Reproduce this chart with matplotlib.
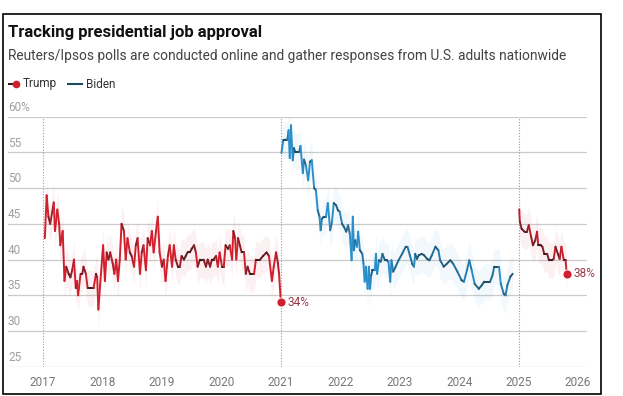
import numpy as np
import matplotlib.pyplot as plt
from matplotlib.collections import LineCollection
from matplotlib.patches import Rectangle
from matplotlib.colors import to_rgb

plt.rcParams['font.family'] = ['Roboto', 'DejaVu Sans']

# Reuters/Ipsos approval (decimal year, % approve)
trump1_year = [2017.03, 2017.06, 2017.09, 2017.12, 2017.15, 2017.18, 2017.20, 2017.24, 2017.27, 2017.29,
               2017.33, 2017.36, 2017.39, 2017.43, 2017.46, 2017.49, 2017.52, 2017.55, 2017.57, 2017.59,
               2017.63, 2017.66, 2017.68, 2017.72, 2017.75, 2017.81, 2017.85, 2017.89, 2017.91, 2017.93,
               2017.96, 2018.01, 2018.04, 2018.07, 2018.10, 2018.13, 2018.17, 2018.20, 2018.23, 2018.26,
               2018.29, 2018.32, 2018.36, 2018.39, 2018.42, 2018.46, 2018.49, 2018.53, 2018.56, 2018.59,
               2018.63, 2018.66, 2018.69, 2018.73, 2018.76, 2018.80, 2018.83, 2018.86, 2018.90, 2018.93,
               2018.96, 2019.00, 2019.03, 2019.06, 2019.10, 2019.13, 2019.17, 2019.20, 2019.23, 2019.27,
               2019.30, 2019.33, 2019.37, 2019.40, 2019.43, 2019.47, 2019.50, 2019.54, 2019.57, 2019.60,
               2019.64, 2019.67, 2019.70, 2019.74, 2019.77, 2019.81, 2019.84, 2019.87, 2019.91, 2019.94,
               2019.97, 2020.01, 2020.04, 2020.07, 2020.11, 2020.14, 2020.18, 2020.20, 2020.23, 2020.25,
               2020.28, 2020.31, 2020.34, 2020.38, 2020.41, 2020.44, 2020.48, 2020.51, 2020.55, 2020.58,
               2020.65, 2020.70, 2020.76, 2020.80, 2020.85, 2020.88, 2020.92, 2020.95, 2020.97, 2021.00]
trump1_pct = [43, 49, 46, 45, 46.5, 48, 44, 47, 45, 42,
              44, 37, 39, 38, 37.5, 38.5, 40, 36, 37, 35,
              38, 38, 39, 38, 36, 36, 36, 38, 37.5, 33,
              36.5, 42, 37, 41, 40, 41, 39.5, 38, 40, 37,
              40, 45, 44, 40, 43, 41, 40.5, 39, 42, 43,
              38, 41, 42, 38.5, 43, 42, 44, 41, 44, 46,
              41, 39, 40, 37, 40.5, 42, 39, 42, 40, 39,
              39, 40.5, 40, 40.5, 41, 41, 41.5, 42, 41, 39,
              40, 40, 40, 39, 40, 39, 40, 40, 40.5, 39,
              41, 39, 39, 42, 41.5, 42, 40, 44, 43, 40,
              43, 42, 41, 41, 38, 39, 38, 38, 38, 40,
              40, 40.5, 41, 40.5, 37, 39, 41, 39.5, 38, 34]

biden_year = [2021.01, 2021.04, 2021.07, 2021.11, 2021.13, 2021.15, 2021.17, 2021.20, 2021.22, 2021.24,
              2021.28, 2021.31, 2021.33, 2021.37, 2021.39, 2021.42, 2021.46, 2021.49, 2021.52, 2021.56,
              2021.59, 2021.62, 2021.65, 2021.67, 2021.69, 2021.72, 2021.76, 2021.79, 2021.83, 2021.86,
              2021.89, 2021.93, 2021.96, 2021.99, 2022.03, 2022.06, 2022.10, 2022.13, 2022.16, 2022.19,
              2022.21, 2022.23, 2022.25, 2022.28, 2022.30, 2022.33, 2022.37, 2022.39, 2022.41, 2022.43,
              2022.46, 2022.48, 2022.50, 2022.52, 2022.54, 2022.58, 2022.60, 2022.62, 2022.65, 2022.68,
              2022.71, 2022.75, 2022.78, 2022.81, 2022.84, 2022.86, 2022.89, 2022.93, 2022.98, 2023.04,
              2023.10, 2023.13, 2023.17, 2023.21, 2023.24, 2023.26, 2023.29, 2023.32, 2023.37, 2023.41,
              2023.46, 2023.50, 2023.54, 2023.60, 2023.65, 2023.68, 2023.74, 2023.79, 2023.85, 2023.90,
              2023.97, 2024.04, 2024.08, 2024.13, 2024.17, 2024.21, 2024.26, 2024.33, 2024.38, 2024.42,
              2024.48, 2024.52, 2024.56, 2024.59, 2024.67, 2024.70, 2024.75, 2024.78, 2024.81, 2024.86,
              2024.90]
biden_pct = [54.9, 56.7, 56.8, 56.8, 58.1, 54.2, 58.8, 53.9, 55.6, 55.1,
             55.1, 55.1, 55.9, 52.1, 54, 53.2, 51.1, 53.7, 53.9, 50,
             49.7, 46.9, 46, 44.1, 45.7, 46, 46, 47.9, 44.1, 45.3,
             47.9, 47.6, 46.9, 46.7, 45, 44.6, 43.9, 44.8, 43.6, 39.9,
             46, 41.3, 42.7, 41.8, 43.9, 41.3, 40.8, 39.4, 36.9, 39,
             35.9, 39, 35.9, 37.8, 38.5, 38.5, 40.8, 38, 39.9, 39.7,
             40.8, 39.9, 39.9, 39.7, 36.9, 39.9, 38.3, 39, 39.9, 40.8,
             41.8, 41.8, 40.6, 39.4, 39, 40.8, 40.1, 40.6, 40.8, 40.6,
             40.1, 39.9, 40.6, 41.8, 41.3, 39.9, 39, 39.4, 39.9, 39.4,
             38.3, 37.1, 36.9, 38.5, 39.9, 38.5, 36.6, 35.9, 36.4, 36.9,
             36.9, 36.9, 37.8, 39, 39, 36.6, 35.2, 35, 36.4, 37.6,
             38]

trump2_year = [2025.01, 2025.02, 2025.05, 2025.10, 2025.14, 2025.17, 2025.21, 2025.24, 2025.28, 2025.31,
               2025.33, 2025.37, 2025.40, 2025.43, 2025.48, 2025.51, 2025.56, 2025.59, 2025.62, 2025.66,
               2025.69, 2025.72, 2025.76, 2025.79, 2025.81]
trump2_pct = [47, 45.3, 44.3, 43.9, 43.9, 44.8, 43.2, 42, 42.7, 43.9,
              42, 42, 41.8, 40.8, 40.8, 39.9, 39.9, 40.1, 41.8, 40.8,
              40.1, 41.8, 39.9, 39.9, 38]

y_ticks = [25, 30, 35, 40, 45, 50, 55, 60]
y_labels = ['25', '30', '35', '40', '45', '50', '55', '60%']
x_ticks = [2017, 2018, 2019, 2020, 2021, 2022, 2023, 2024, 2025, 2026]
term_starts = [2017, 2021, 2025]

RED = '#d21f2d'
RED_DARK = '#3b1b1e'
BLUE = '#2a8fcb'
BLUE_DARK = '#1d4a5e'


def draw_series(ax, x, y, c_hi, c_lo):
    x = np.asarray(x)
    y = np.asarray(y)
    ax.fill_between(x, y - 2.5, y + 2.5, color=c_hi, alpha=0.06, lw=0, zorder=2)
    pts = np.column_stack([x, y])
    segs = np.stack([pts[:-1], pts[1:]], axis=1)
    w = np.clip(np.abs(np.diff(y)) / 2.0, 0, 1)[:, None]
    cols = np.array(to_rgb(c_lo)) * (1 - w) + np.array(to_rgb(c_hi)) * w
    lc = LineCollection(segs, colors=cols, linewidths=1.4, zorder=3,
                        capstyle='round', joinstyle='round')
    ax.add_collection(lc)


fig = plt.figure(figsize=(6.23, 3.96), dpi=100)
ax = fig.add_axes([8 / 623, 1 - 366.7 / 396, 579 / 623, 250 / 396])

ax.set_xlim(2016.41, 2026.15)
ax.set_ylim(25, 60)
for s in ax.spines.values():
    s.set_visible(False)

for v, lab in zip(y_ticks, y_labels):
    ax.axhline(v, color='#cbcbcb', lw=0.9, zorder=1)
    ax.annotate(lab, (2016.41, v), xytext=(0, 2), textcoords='offset points',
                ha='left', va='bottom', fontsize=8.5, color='#a0a0a0')
for t in term_starts:
    ax.plot([t, t], [25, 60], color='#9a9a9a', lw=0.8, ls=(0, (1, 1.5)), zorder=1)

ax.set_yticks([])
ax.set_xticks(x_ticks)
ax.tick_params(axis='x', length=0, pad=7, labelsize=8.5, labelcolor='#777777')

draw_series(ax, trump1_year, trump1_pct, RED, RED_DARK)
draw_series(ax, biden_year, biden_pct, BLUE, BLUE_DARK)
draw_series(ax, trump2_year, trump2_pct, RED, RED_DARK)

for xs, ys in [(trump1_year, trump1_pct), (trump2_year, trump2_pct)]:
    ax.plot(xs[-1], ys[-1], 'o', ms=6.5, color=RED, mec='white', mew=0.6, zorder=5, clip_on=False)
    ax.annotate(f'{ys[-1]:.0f}%', (xs[-1], ys[-1]), xytext=(5, 0), textcoords='offset points',
                ha='left', va='center', fontsize=8.5, color='#9b3a45')

# title, subtitle, legend
fig.text(8 / 623, 1 - 32 / 396, 'Tracking presidential job approval', fontsize=12,
         fontweight='bold', color='#111111', va='center', ha='left')
fig.text(8 / 623, 1 - 56 / 396,
         'Reuters/Ipsos polls are conducted online and gather responses from U.S. adults nationwide',
         fontsize=9.9, color='#444444', va='center', ha='left')

ly = 1 - 84 / 396
fig.add_artist(plt.Line2D([9 / 623, 16 / 623], [ly, ly], color=RED_DARK, lw=1.5))
fig.add_artist(plt.Line2D([16 / 623], [ly], marker='o', ms=4.5, color=RED))
fig.text(23 / 623, ly, 'Trump', fontsize=8.5, color='#333333', va='center')
fig.add_artist(plt.Line2D([68 / 623, 82 / 623], [ly, ly], color=BLUE_DARK, lw=1.5))
fig.text(86 / 623, ly, 'Biden', fontsize=8.5, color='#333333', va='center')

fig.add_artist(Rectangle((3 / 623, 2 / 396), 598 / 623, 380 / 396, transform=fig.transFigure,
                         fill=False, edgecolor='black', lw=1.2))

fig.savefig('out.png', dpi=100, facecolor='white')
